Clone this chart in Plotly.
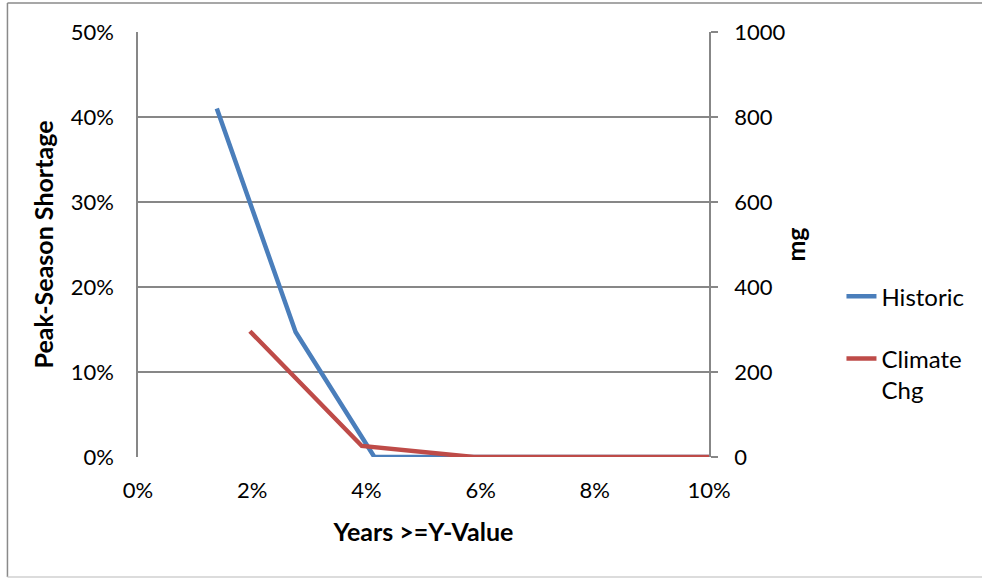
import plotly.graph_objects as go

# Data (percent values)
hist_x = [1.38, 2.76, 4.14, 5.52, 6.90, 8.28, 9.66, 11.04]
hist_y = [41.0, 14.7, 0.0, 0.0, 0.0, 0.0, 0.0, 0.0]
clim_x = [1.96, 3.92, 5.88, 7.84, 9.80, 11.76]
clim_y = [14.8, 1.3, 0.0, 0.0, 0.0, 0.0]

x_ticks = [0, 2, 4, 6, 8, 10]
y_ticks = [0, 10, 20, 30, 40, 50]
y2_ticks = [0, 200, 400, 600, 800, 1000]

FONT = "Lato"
GRID = "#878787"
W, H = 982, 579
L, T = 138, 32
PW, PH = 573, 425
R = W - L - PW
B = H - T - PH


def px_x(p):
    return (p - L) / PW


def px_y(p):
    return (T + PH - p) / PH


fig = go.Figure()
fig.add_trace(go.Scatter(x=hist_x, y=hist_y, mode="lines", name="Historic",
                         line=dict(color="#4A7EBB", width=4.5),
                         legendgroup="a"))
fig.add_trace(go.Scatter(x=clim_x, y=clim_y, mode="lines", name="Climate<br>Chg",
                         line=dict(color="#BE4B48", width=4.5),
                         legendgroup="b"))
# empty trace so the secondary axis is drawn
fig.add_trace(go.Scatter(x=[None], y=[None], yaxis="y2", showlegend=False,
                         hoverinfo="skip"))

# outer chart-area border (top, left darker; bottom faint)
fig.add_shape(type="line", xref="paper", yref="paper",
              x0=px_x(7), x1=px_x(W + 60), y0=px_y(3), y1=px_y(3),
              line=dict(color="#8a8a8a", width=1.5), layer="below")
fig.add_shape(type="line", xref="paper", yref="paper",
              x0=px_x(7), x1=px_x(7), y0=px_y(3), y1=px_y(577),
              line=dict(color="#8a8a8a", width=1.5), layer="below")
fig.add_shape(type="line", xref="paper", yref="paper",
              x0=px_x(7), x1=px_x(W + 60), y0=px_y(577), y1=px_y(577),
              line=dict(color="#d0d0d0", width=1.5), layer="below")

fig.update_layout(
    width=W, height=H,
    margin=dict(l=L, r=R, t=T, b=B),
    paper_bgcolor="white", plot_bgcolor="white",
    font=dict(family=FONT, size=22, color="#000000"),
    showlegend=True,
    legend=dict(x=1.232, xanchor="left", y=0.43, yanchor="top",
                traceorder="grouped", tracegroupgap=28, valign="top",
                font=dict(family=FONT, size=24),
                bgcolor="rgba(0,0,0,0)", borderwidth=0),
    xaxis=dict(range=[0, 10], tickvals=x_ticks,
               ticktext=[f"{v}%" for v in x_ticks],
               showgrid=False, zeroline=False, showline=False,
               ticks="", ticklabelstandoff=18,
               title=dict(text="<b>Years >=Y-Value</b>", standoff=21,
                          font=dict(family=FONT, size=25))),
    yaxis=dict(range=[0, 50], tickvals=y_ticks,
               ticktext=[f"{v}%" for v in y_ticks],
               showgrid=True, gridcolor=GRID, gridwidth=1.5,
               zeroline=False, showline=True, linecolor=GRID, linewidth=1.5,
               ticks="", ticklabelstandoff=18,
               title=dict(text="<b>Peak-Season Shortage</b>", standoff=10,
                          font=dict(family=FONT, size=25))),
    yaxis2=dict(range=[0, 1000], tickvals=y2_ticks,
                overlaying="y", side="right", showgrid=False, zeroline=False,
                showline=True, linecolor=GRID, linewidth=1.5,
                ticks="outside", ticklen=7, tickcolor=GRID, tickwidth=1.5,
                ticklabelstandoff=12,
                title=dict(text="<b>mg</b>", standoff=3,
                           font=dict(family=FONT, size=25))),
)

fig.write_html(
    "out.html",
    config={"displayModeBar": False},
    post_script=("document.documentElement.style.overflow='hidden';"
                 "document.body.style.margin='0';"
                 "document.body.style.overflow='hidden';"),
)
